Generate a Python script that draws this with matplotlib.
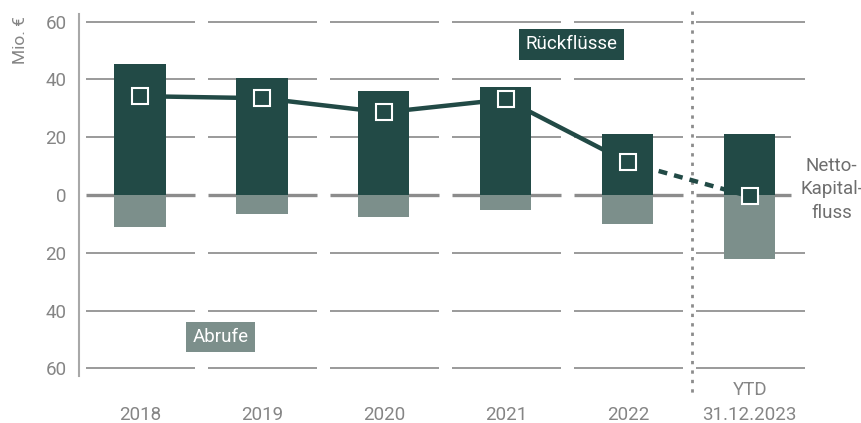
import numpy as np
import matplotlib.pyplot as plt

plt.rcParams['font.family'] = ['Roboto', 'DejaVu Sans']

# Werte in Mio. EUR (aus dem Bild geschaetzt)
kategorien = ['2018', '2019', '2020', '2021', '2022', 'YTD\n31.12.2023']
rueckfluesse = [45.2, 40.4, 35.9, 37.2, 21.2, 21.2]
abrufe = [-10.9, -6.7, -7.5, -5.3, -10.2, -22.2]
netto = [34.2, 33.5, 28.6, 33.1, 11.3, -0.5]
y_ticks = [-60, -40, -20, 0, 20, 40, 60]

dunkel = '#224a46'
hell = '#7c8f8b'
grau = '#858585'

fig = plt.figure(figsize=(8.62, 4.23), dpi=100)
ax = fig.add_axes([0.0916, 0.112, 0.9084, 0.854])

x = np.arange(len(kategorien))

# gebrochene Gitterlinien je Kategorie
for i in x:
    for yv in y_ticks:
        right = i + 0.45
        if i == len(kategorien) - 1 and yv in (0, 20):
            right = i + 0.34
        lw, col = (2.4, '#8c8c8c') if yv == 0 else (1.4, '#9a9a9a')
        ax.plot([i - 0.44, right], [yv, yv], color=col, lw=lw, zorder=1,
                solid_capstyle='butt', clip_on=False)

ax.bar(x, rueckfluesse, width=0.42, color=dunkel, zorder=2)
ax.bar(x, abrufe, width=0.42, color=hell, zorder=2)

ax.plot(x[:5], netto[:5], color=dunkel, lw=3.2, zorder=3)
ax.plot(x[4:], netto[4:], color=dunkel, lw=3.2, ls=(0, (2, 1.6)), zorder=3)
ax.plot(x, netto, ls='none', marker='s', ms=11, mfc=dunkel, mec='white',
        mew=1.5, zorder=4)

# Trennlinie vor YTD
ax.plot([4.53, 4.53], [63.5, -68.5], color='#8c8c8c', lw=2,
        ls=(0, (1.2, 2.2)), clip_on=False, zorder=1)

ax.set_xlim(-0.5, 5.92)
ax.set_ylim(-62.5, 62.5)
ax.set_yticks(y_ticks)
ax.set_yticklabels([str(abs(v)) for v in y_ticks])
ax.tick_params(axis='y', length=0, pad=9, labelsize=13.5, labelcolor=grau)
ax.set_xticks([])

for s in ['top', 'right', 'bottom']:
    ax.spines[s].set_visible(False)
ax.spines['left'].set_color('#a8a8a8')
ax.spines['left'].set_linewidth(1.5)

for i, lab in zip(x, kategorien):
    ax.text(i, -0.122, lab, transform=ax.get_xaxis_transform(), ha='center',
            va='baseline', fontsize=13.5, color=grau, linespacing=1.45)

fig.text(0.024, 0.905, 'Mio. €', rotation=90, ha='center', va='center',
         fontsize=12.5, color=grau)

ax.text(3.54, 52.1, 'Rückflüsse', ha='center', va='center', fontsize=13.5,
        color='white', bbox=dict(boxstyle='square,pad=0.34', fc=dunkel, ec='none'))
ax.text(0.66, -49.1, 'Abrufe', ha='center', va='center', fontsize=13.5,
        color='white', bbox=dict(boxstyle='square,pad=0.34', fc=hell, ec='none'))
ax.text(5.67, 2.0, 'Netto-\nKapital-\nfluss', ha='center', va='center',
        fontsize=13.5, color='#6e6e6e', linespacing=1.4)

fig.savefig('out.png', dpi=100)
